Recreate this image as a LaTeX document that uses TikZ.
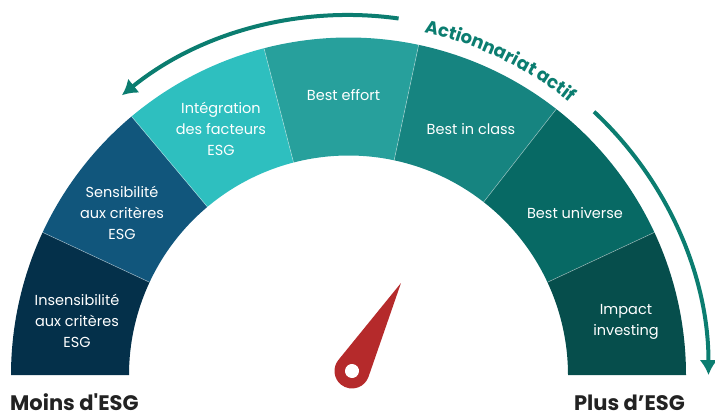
\documentclass[tikz,border=0pt]{standalone}
\usepackage{fontspec}
\setmainfont{Poppins}[Ligatures=TeXOff]
\usetikzlibrary{arrows.meta,decorations.text}
\definecolor{segA}{HTML}{04304A}
\definecolor{segB}{HTML}{11567C}
\definecolor{segC}{HTML}{2EBFBF}
\definecolor{segD}{HTML}{27A09C}
\definecolor{segE}{HTML}{168480}
\definecolor{segF}{HTML}{076964}
\definecolor{segG}{HTML}{064E4C}
\definecolor{actteal}{HTML}{0B7D70}
\definecolor{needlered}{HTML}{B52A2B}
\definecolor{darktext}{HTML}{222222}
\newcommand{\actfont}{\fontsize{18}{22}\selectfont\bfseries}
\begin{document}
\begin{tikzpicture}[x=1pt,y=1pt,
  seglabel/.style={text=white, align=center, font=\fontsize{14.5}{21}\selectfont, inner sep=0pt},
  endlabel/.style={font=\fontsize{21}{24}\selectfont\bfseries, text=darktext, inner sep=0pt},
  actarrow/.style={draw=actteal, line width=4pt, -{Latex[length=15pt,width=18pt]}},
  sepline/.style={draw=white, draw opacity=0.45, line width=0.6pt}]
\useasboundingbox (0,0) rectangle (715,413);
% gauge centred at the middle of its base line
\begin{scope}[shift={(348.5,38)}]
  \foreach \a/\b/\c in {180/155/segA,155/130/segB,130/104.5/segC,104.5/78/segD,78/52/segE,52/25/segF,25/0/segG}
    \fill[\c] (\a:337.5) arc[start angle=\a,end angle=\b,radius=337.5]
      -- (\b:219.5) arc[start angle=\b,end angle=\a,radius=219.5] -- cycle;
  \foreach \a in {155,130,104.5,78,52,25}
    \draw[sepline] (\a:219.5) -- (\a:337.5);
  % "Actionnariat actif" arrows and their title
  \coordinate (actL) at (82:360);
  \coordinate (actR) at (47:360);
  \draw[actarrow] (actL) arc[start angle=82,end angle=129,radius=360];
  \draw[actarrow] (actR) arc[start angle=47,end angle=0,radius=360];
  \path[decorate, decoration={text along path, text color=actteal,
      text={|\actfont|Actionnariat actif}, text align=center}]
    (79.5:351) arc[start angle=79.5,end angle=49,radius=351];
\end{scope}
% segment labels
\node[seglabel] (ins) at (77,92) {Insensibilité\\aux critères\\ESG};
\node[seglabel] (sens) at (122,200) {Sensibilité\\aux critères\\ESG};
\node[seglabel] (integ) at (221,284) {Intégration\\des facteurs\\ESG};
\node[seglabel] (effort) at (343.5,318) {Best effort};
\node[seglabel] (inclass) at (471,284) {Best in class};
\node[seglabel] (universe) at (575,200) {Best universe};
\node[seglabel] (impact) at (626,91.5) {Impact\\investing};
% needle
\begin{scope}[shift={(352,42)}, rotate=60.9]
  \fill[needlered] (100.7,0) -- (80:17.5) arc[start angle=80,end angle=280,radius=17.5] -- cycle;
  \fill[white] (0,0) circle[radius=7];
\end{scope}
% scale ends
\node[endlabel, anchor=base west] (less) at (10,2.5) {Moins d'ESG};
\node[endlabel, anchor=base east] (more) at (685,2.5) {Plus d’ESG};
\end{tikzpicture}
\end{document}
